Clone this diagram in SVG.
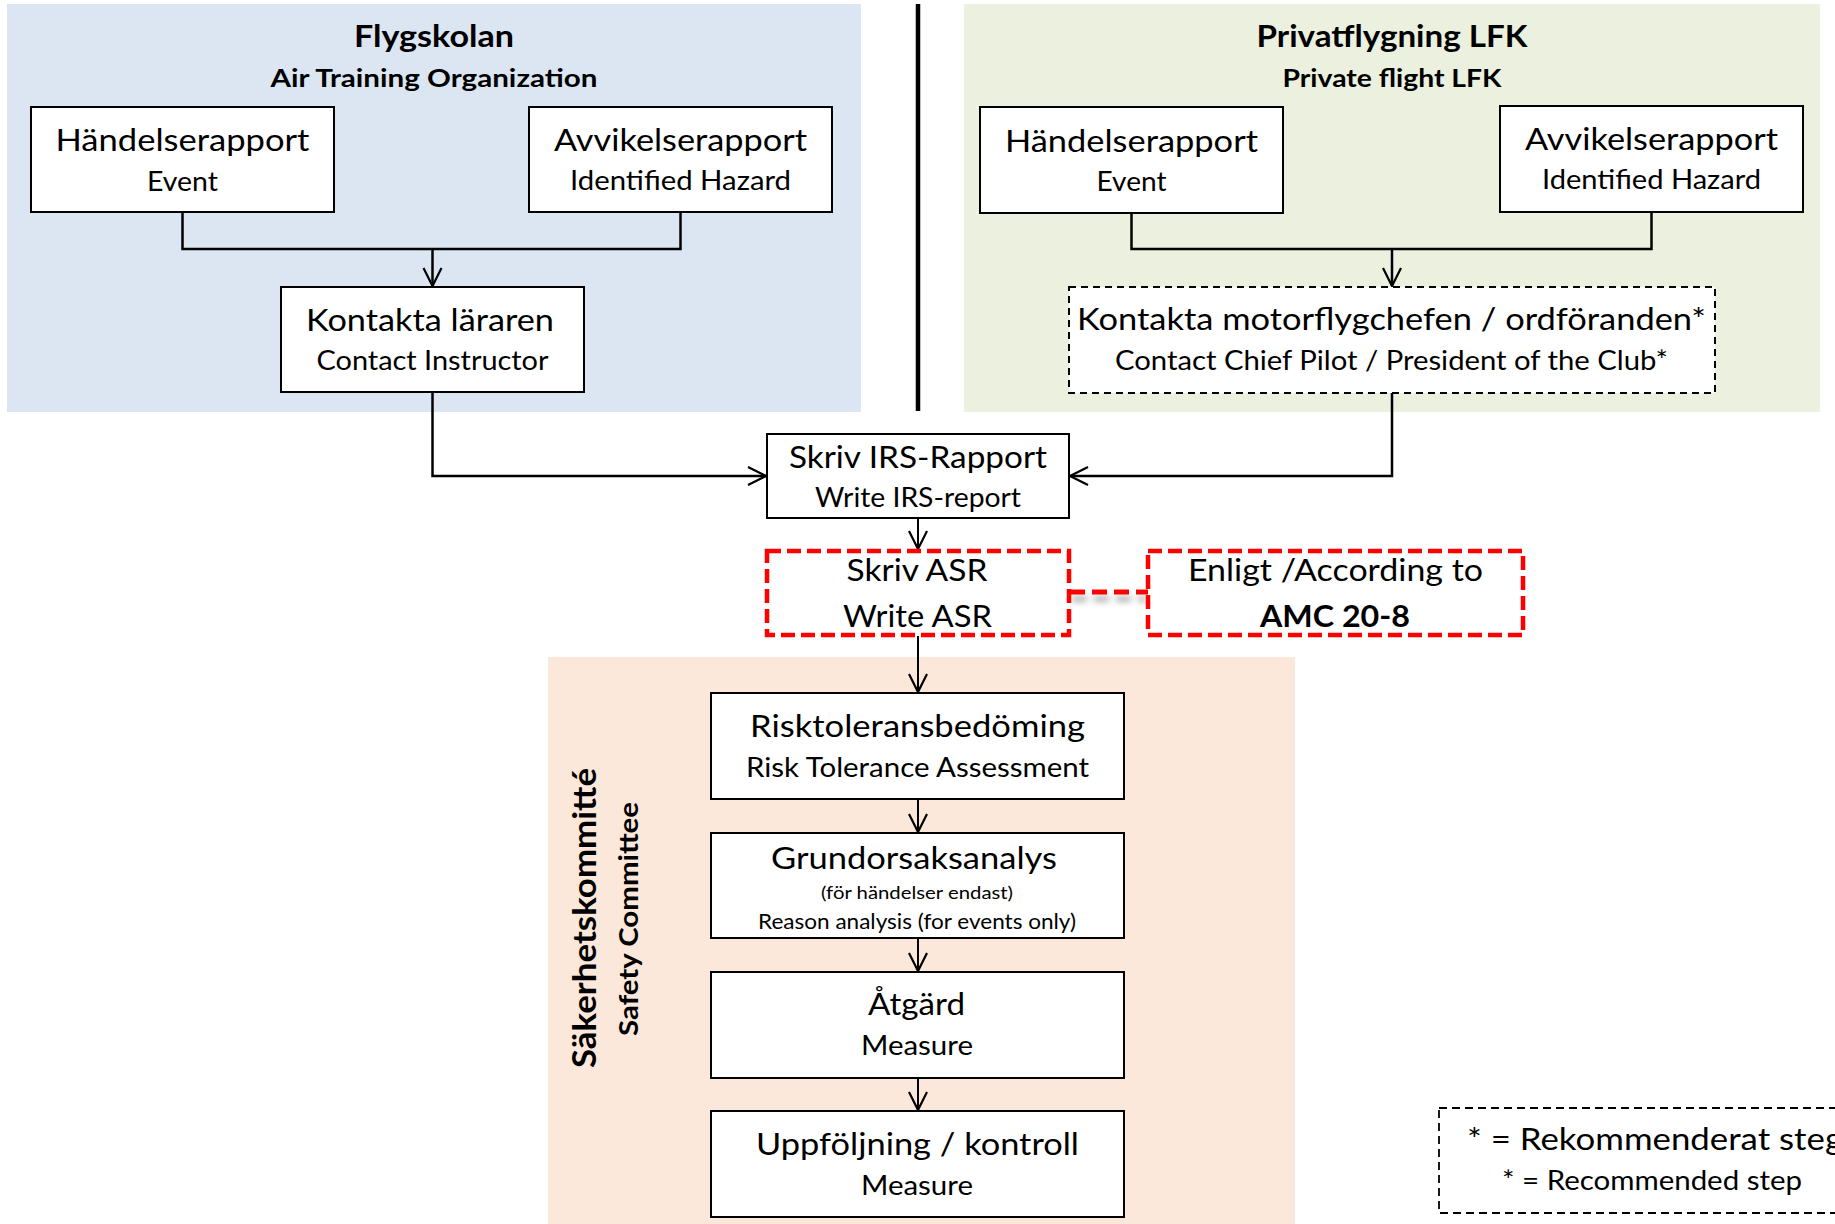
<svg xmlns="http://www.w3.org/2000/svg" width="1835" height="1224" viewBox="0 0 1835 1224">
<style>
text{font-family:Lato,"Open Sans","Liberation Sans",sans-serif;fill:#000;text-anchor:middle;}
.b{font-weight:bold;}
.t1{font-size:30px;}
.t2{font-size:26px;}
.box{fill:#fff;stroke:#000;stroke-width:2;}
.dbox{fill:#fff;stroke:#000;stroke-width:2;stroke-dasharray:7 5;}
.rbox{fill:#fff;stroke:#ff0000;stroke-width:4.5;stroke-dasharray:14 6;}
.ln{fill:none;stroke:#000;stroke-width:2.5;}
.ln2{fill:none;stroke:#000;stroke-width:2;}
</style>
<defs>
<marker id="ah" markerUnits="userSpaceOnUse" markerWidth="24" markerHeight="24" viewBox="-20 -12 24 24" refX="0" refY="0" orient="auto">
<path d="M-18,-9 L0,0 L-18,9" fill="none" stroke="#000" stroke-width="2.2"/>
</marker>
<filter id="blur" filterUnits="userSpaceOnUse" x="1050" y="580" width="120" height="40">
<feGaussianBlur stdDeviation="3"/>
</filter>
</defs>

<g id="panels">
<rect id="panel-flygskolan" x="7" y="4" width="854" height="408" fill="#DCE6F2"/>
<rect id="panel-privat" x="964" y="4" width="856" height="408" fill="#EBF1DE"/>
<rect id="panel-safety" x="548" y="657" width="747" height="567" fill="#FCE8DA"/>
<line x1="918" y1="4" x2="918" y2="411" stroke="#000" stroke-width="4.5"/>
</g>

<g id="titles">
<text class="b" x="434" y="47" font-size="30" textLength="160" lengthAdjust="spacingAndGlyphs">Flygskolan</text>
<text class="b" x="434" y="87" font-size="24" textLength="327" lengthAdjust="spacingAndGlyphs">Air Training Organization</text>
<text class="b" x="1392" y="47" font-size="30" textLength="271" lengthAdjust="spacingAndGlyphs">Privatflygning LFK</text>
<text class="b" x="1392" y="87" font-size="24" textLength="219" lengthAdjust="spacingAndGlyphs">Private flight LFK</text>
</g>

<g id="connectors">
<polyline class="ln" points="182.5,212 182.5,249 680.5,249 680.5,212"/>
<line class="ln" x1="432.5" y1="249" x2="432.5" y2="286" marker-end="url(#ah)"/>
<polyline class="ln" points="1131.5,213 1131.5,249 1651.5,249 1651.5,212"/>
<line class="ln" x1="1392" y1="249" x2="1392" y2="286" marker-end="url(#ah)"/>
<polyline class="ln" points="432.5,392 432.5,476 766,476" marker-end="url(#ah)"/>
<polyline class="ln" points="1392,393 1392,476 1070,476" marker-end="url(#ah)"/>
<line class="ln2" x1="918" y1="518" x2="918" y2="549" marker-end="url(#ah)"/>
<line class="ln2" x1="918" y1="636" x2="918" y2="692" marker-end="url(#ah)"/>
<line class="ln2" x1="918" y1="799" x2="918" y2="832" marker-end="url(#ah)"/>
<line class="ln2" x1="918" y1="938" x2="918" y2="971" marker-end="url(#ah)"/>
<line class="ln2" x1="918" y1="1078" x2="918" y2="1110" marker-end="url(#ah)"/>
<line x1="1072" y1="599" x2="1146" y2="599" stroke="#000" stroke-opacity="0.35" stroke-width="5" stroke-dasharray="15 7" filter="url(#blur)"/>
<line x1="1070" y1="592" x2="1148" y2="592" stroke="#ff0000" stroke-width="5" stroke-dasharray="15 7"/>
</g>

<g id="n-handelse-left">
<rect class="box" x="31" y="107" width="303" height="105"/>
<text class="t1" x="182.5" y="151" textLength="254" lengthAdjust="spacingAndGlyphs">Händelserapport</text>
<text class="t2" x="182.5" y="191" textLength="71" lengthAdjust="spacingAndGlyphs">Event</text>
</g>
<g id="n-avvikelse-left">
<rect class="box" x="529" y="107" width="303" height="105"/>
<text class="t1" x="680.5" y="151" textLength="253" lengthAdjust="spacingAndGlyphs">Avvikelserapport</text>
<text class="t2" x="680.5" y="190" textLength="221" lengthAdjust="spacingAndGlyphs">Identified Hazard</text>
</g>
<g id="n-kontakta-lararen">
<rect class="box" x="281" y="287" width="303" height="105"/>
<text class="t1" x="430" y="331" textLength="248" lengthAdjust="spacingAndGlyphs">Kontakta läraren</text>
<text class="t2" x="432.5" y="370" textLength="232" lengthAdjust="spacingAndGlyphs">Contact Instructor</text>
</g>

<g id="n-handelse-right">
<rect class="box" x="980" y="107" width="303" height="106"/>
<text class="t1" x="1131.5" y="152" textLength="253" lengthAdjust="spacingAndGlyphs">Händelserapport</text>
<text class="t2" x="1131.5" y="191" textLength="70" lengthAdjust="spacingAndGlyphs">Event</text>
</g>
<g id="n-avvikelse-right">
<rect class="box" x="1500" y="106" width="303" height="106"/>
<text class="t1" x="1651.5" y="150" textLength="253" lengthAdjust="spacingAndGlyphs">Avvikelserapport</text>
<text class="t2" x="1651.5" y="189" textLength="219" lengthAdjust="spacingAndGlyphs">Identified Hazard</text>
</g>
<g id="n-kontakta-chef">
<rect class="dbox" x="1069" y="287" width="646" height="106"/>
<text class="t1" x="1391.5" y="330" textLength="629" lengthAdjust="spacingAndGlyphs">Kontakta motorflygchefen / ordföranden*</text>
<text class="t2" x="1391.5" y="370" textLength="553" lengthAdjust="spacingAndGlyphs">Contact Chief Pilot / President of the Club*</text>
</g>

<g id="n-irs">
<rect class="box" x="767" y="434" width="302" height="84"/>
<text class="t1" x="918" y="468" textLength="258" lengthAdjust="spacingAndGlyphs">Skriv IRS-Rapport</text>
<text class="t2" x="918" y="507" font-size="25" textLength="206" lengthAdjust="spacingAndGlyphs">Write IRS-report</text>
</g>
<g id="n-asr">
<rect class="rbox" x="767" y="551" width="302" height="84"/>
<text class="t1" x="917" y="581" textLength="141" lengthAdjust="spacingAndGlyphs">Skriv ASR</text>
<text class="t1" x="917.5" y="627" textLength="149" lengthAdjust="spacingAndGlyphs">Write ASR</text>
</g>
<g id="n-amc">
<rect class="rbox" x="1148" y="551" width="375" height="84"/>
<text class="t1" x="1335.5" y="581" textLength="295" lengthAdjust="spacingAndGlyphs">Enligt /According to</text>
<text class="t1 b" x="1335" y="627" textLength="150" lengthAdjust="spacingAndGlyphs">AMC 20-8</text>
</g>

<g id="safety-label">
<text class="b" transform="translate(596,918) rotate(-90)" font-size="32" textLength="300" lengthAdjust="spacingAndGlyphs">Säkerhetskommitté</text>
<text class="b" transform="translate(638,919) rotate(-90)" font-size="27" textLength="234" lengthAdjust="spacingAndGlyphs">Safety Committee</text>
</g>

<g id="n-risk">
<rect class="box" x="711" y="693" width="413" height="106"/>
<text class="t1" x="917.5" y="737" textLength="335" lengthAdjust="spacingAndGlyphs">Risktoleransbedöming</text>
<text class="t2" x="917.5" y="777" textLength="343" lengthAdjust="spacingAndGlyphs">Risk Tolerance Assessment</text>
</g>
<g id="n-grund">
<rect class="box" x="711" y="833" width="413" height="105"/>
<text class="t1" x="914" y="869" textLength="286" lengthAdjust="spacingAndGlyphs">Grundorsaksanalys</text>
<text x="917" y="899" font-size="18" textLength="192" lengthAdjust="spacingAndGlyphs">(för händelser endast)</text>
<text x="917" y="929" font-size="21" textLength="318" lengthAdjust="spacingAndGlyphs">Reason analysis (for events only)</text>
</g>
<g id="n-atgard">
<rect class="box" x="711" y="972" width="413" height="106"/>
<text class="t1" x="916.5" y="1015" textLength="97" lengthAdjust="spacingAndGlyphs">Åtgärd</text>
<text class="t2" x="917" y="1055" textLength="112" lengthAdjust="spacingAndGlyphs">Measure</text>
</g>
<g id="n-uppfoljning">
<rect class="box" x="711" y="1111" width="413" height="106"/>
<text class="t1" x="917.5" y="1155" textLength="323" lengthAdjust="spacingAndGlyphs">Uppföljning / kontroll</text>
<text class="t2" x="917" y="1195" textLength="112" lengthAdjust="spacingAndGlyphs">Measure</text>
</g>

<g id="legend">
<rect x="1439" y="1108" width="420" height="105" fill="none" stroke="#000" stroke-width="1.8" stroke-dasharray="8 5"/>
<text x="1467" y="1150" font-size="31" style="text-anchor:start" textLength="376" lengthAdjust="spacingAndGlyphs">* = Rekommenderat steg</text>
<text x="1502" y="1190" font-size="27" style="text-anchor:start" textLength="300" lengthAdjust="spacingAndGlyphs">* = Recommended step</text>
</g>
</svg>
